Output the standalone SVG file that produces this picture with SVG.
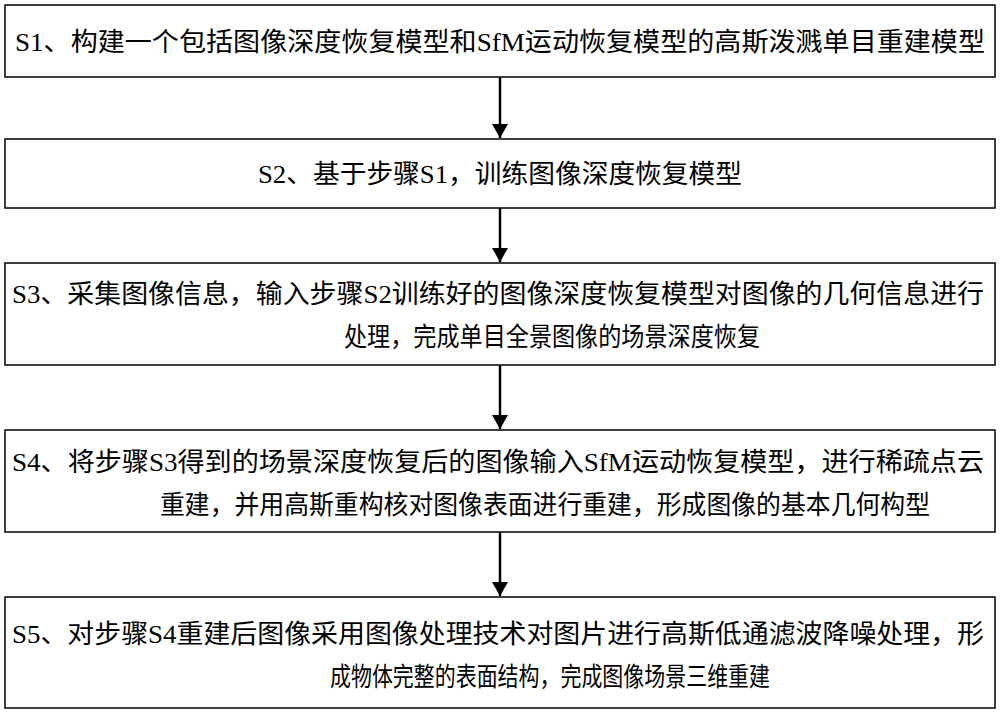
<svg xmlns="http://www.w3.org/2000/svg" width="1000" height="713" viewBox="0 0 1000 713">
<style>
.b{fill:#fff;stroke:#000;stroke-width:1.5}
text{font-family:"Liberation Serif","Noto Sans CJK SC",serif;font-size:26px;fill:#000;text-anchor:middle}
.c line{stroke:#000;stroke-width:2.5}
</style>
<defs><marker id="m" markerWidth="14" markerHeight="16" refX="14" refY="8" orient="auto" markerUnits="userSpaceOnUse"><path d="M0,0L14,8L0,16z" fill="#000"/></marker></defs>
<rect width="1000" height="713" fill="#fff"/>
<g id="s1"><rect class="b" x="5" y="5" width="990" height="72"/><text x="500" y="51" textLength="970" lengthAdjust="spacingAndGlyphs">S1、构建一个包括图像深度恢复模型和SfM运动恢复模型的高斯泼溅单目重建模型</text></g>
<g id="s2"><rect class="b" x="5" y="139" width="990" height="69"/><text x="500" y="183" textLength="484" lengthAdjust="spacingAndGlyphs">S2、基于步骤S1，训练图像深度恢复模型</text></g>
<g id="s3"><rect class="b" x="5" y="263" width="990" height="102"/><text x="498" y="303" textLength="972" lengthAdjust="spacingAndGlyphs">S3、采集图像信息，输入步骤S2训练好的图像深度恢复模型对图像的几何信息进行</text><text x="552" y="346" textLength="416" lengthAdjust="spacingAndGlyphs">处理，完成单目全景图像的场景深度恢复</text></g>
<g id="s4"><rect class="b" x="5" y="430" width="990" height="102"/><text x="498" y="471" textLength="972" lengthAdjust="spacingAndGlyphs">S4、将步骤S3得到的场景深度恢复后的图像输入SfM运动恢复模型，进行稀疏点云</text><text x="545" y="514" textLength="770" lengthAdjust="spacingAndGlyphs">重建，并用高斯重构核对图像表面进行重建，形成图像的基本几何构型</text></g>
<g id="s5"><rect class="b" x="5" y="597" width="990" height="111"/><text x="498" y="643" textLength="972" lengthAdjust="spacingAndGlyphs">S5、对步骤S4重建后图像采用图像处理技术对图片进行高斯低通滤波降噪处理，形</text><text x="550" y="686" textLength="440" lengthAdjust="spacingAndGlyphs">成物体完整的表面结构，完成图像场景三维重建</text></g>
<g class="c" id="connectors">
<line x1="500" y1="77" x2="500" y2="138" marker-end="url(#m)"/>
<line x1="500" y1="208" x2="500" y2="262" marker-end="url(#m)"/>
<line x1="500" y1="365" x2="500" y2="429" marker-end="url(#m)"/>
<line x1="500" y1="532" x2="500" y2="596" marker-end="url(#m)"/>
</g>
</svg>
